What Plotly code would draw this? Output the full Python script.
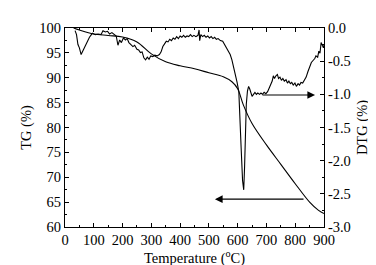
import plotly.graph_objects as go

# TG curve (smooth) - temperature (°C) vs mass (%)
tg_temp = [30, 50, 100, 150, 200, 250, 300, 350, 400, 450, 500, 550, 580, 600, 620,
           650, 700, 750, 800, 850, 880, 900]
tg_val = [100.0, 99.6, 98.8, 98.5, 98.2, 97.2, 94.8, 93.2, 92.4, 91.8, 91.0, 90.2,
          89.2, 87.8, 84.5, 80.8, 76.5, 72.6, 68.7, 65.0, 63.4, 62.7]

# DTG curve (noisy)
dtg_temp = [35, 40, 45, 50, 56, 65, 75, 85, 95, 105, 115, 125, 132, 140, 148, 155, 163,
            170, 178, 184, 190, 196, 203, 210, 216, 222, 230, 236, 242, 250, 256, 262,
            268, 274, 280, 286, 292, 298, 305, 312, 320, 328, 334, 340, 346, 352, 358,
            364, 370, 376, 382, 388, 394, 400, 406, 412, 418, 424, 430, 436, 442, 448,
            455, 462, 466, 468, 472, 478, 484, 490, 496, 502, 508, 514, 520, 526, 532,
            540, 548, 556, 562, 568, 574, 580, 586, 592, 598, 604, 608, 612, 617, 621,
            624, 627, 630, 634, 638, 642, 646, 650, 655, 660, 665, 670, 676, 681, 686, 692,
            698, 704, 710, 716, 720, 724, 728, 733, 738, 742, 747, 752, 757, 762, 768,
            773, 778, 783, 788, 793, 799, 804, 810, 815, 820, 826, 832, 838, 844, 850,
            856, 862, 868, 872, 878, 882, 886, 890, 894, 898, 900]
dtg_val = [-0.04, -0.10, -0.25, -0.30, -0.40, -0.32, -0.22, -0.14, -0.08, -0.10, -0.09,
           -0.10, -0.04, -0.06, -0.05, -0.09, -0.07, -0.10, -0.12, -0.26, -0.18, -0.22,
           -0.15, -0.18, -0.16, -0.22, -0.25, -0.28, -0.26, -0.32, -0.33, -0.37, -0.36,
           -0.45, -0.48, -0.44, -0.47, -0.42, -0.43, -0.41, -0.42, -0.40, -0.36, -0.28,
           -0.24, -0.20, -0.21, -0.17, -0.19, -0.15, -0.17, -0.13, -0.16, -0.12, -0.14,
           -0.11, -0.14, -0.12, -0.13, -0.10, -0.13, -0.11, -0.13, -0.11, -0.03, -0.19,
           -0.10, -0.13, -0.11, -0.14, -0.12, -0.15, -0.13, -0.16, -0.14, -0.17, -0.16,
           -0.19, -0.20, -0.26, -0.30, -0.34, -0.40, -0.48, -0.58, -0.70, -0.82, -0.96,
           -1.30, -1.80, -2.30, -2.44, -2.10, -1.60, -1.15, -0.95, -0.88, -0.92, -0.98,
           -1.03, -1.00, -0.97, -1.00, -0.98, -1.00, -0.98, -1.00, -0.97, -0.99, -0.96,
           -0.90, -0.84, -0.80, -0.72, -0.76, -0.72, -0.70, -0.76, -0.74, -0.79, -0.76,
           -0.80, -0.78, -0.83, -0.80, -0.84, -0.82, -0.86, -0.83, -0.88, -0.84, -0.86,
           -0.82, -0.83, -0.79, -0.74, -0.66, -0.58, -0.52, -0.49, -0.46, -0.42, -0.44,
           -0.35, -0.38, -0.22, -0.26, -0.30, -0.25, -0.30]

# Arrow annotations (tail -> head) in data coordinates (x, DTG)
arrow_tg = dict(tail=(834, -2.58), head=(521, -2.58))
arrow_dtg = dict(tail=(681, -1.01), head=(869, -1.01))

x_ticks = [0, 100, 200, 300, 400, 500, 600, 700, 800, 900]
y_ticks = [60, 65, 70, 75, 80, 85, 90, 95, 100]
y2_ticks = [0.0, -0.5, -1.0, -1.5, -2.0, -2.5, -3.0]
y2_text = ["0.0", "-0.5", "-1.0", "-1.5", "-2.0", "-2.5", "-3.0"]

FONT = "Liberation Serif, Times New Roman, serif"
FS = 14.5

fig = go.Figure()
fig.add_trace(go.Scatter(x=tg_temp, y=tg_val, mode="lines", line=dict(color="black", width=1.1, shape="spline"),
                         showlegend=False, yaxis="y"))
fig.add_trace(go.Scatter(x=dtg_temp, y=dtg_val, mode="lines", line=dict(color="black", width=1.1),
                         showlegend=False, yaxis="y2"))

for a in (arrow_tg, arrow_dtg):
    fig.add_annotation(x=a["head"][0], y=a["head"][1], ax=a["tail"][0], ay=a["tail"][1],
                       xref="x", yref="y2", axref="x", ayref="y2", text="",
                       showarrow=True, arrowhead=2, arrowsize=1.4, arrowwidth=1.1,
                       arrowcolor="black")

axis_common = dict(showline=True, linecolor="black", linewidth=1, ticks="inside",
                   ticklen=4, tickcolor="black", showgrid=False, zeroline=False,
                   tickfont=dict(family=FONT, size=FS, color="black"))

fig.update_layout(
    width=376, height=265,
    margin=dict(l=57, r=60, t=14, b=43),
    paper_bgcolor="white", plot_bgcolor="white",
    font=dict(family=FONT, size=FS, color="black"),
    xaxis=dict(range=[0, 900], tickvals=x_ticks, mirror="ticks",
               minor=dict(ticks="inside", ticklen=2, dtick=50, tickcolor="black"),
               title=dict(text="Temperature (<sup>o</sup>C)", font=dict(family=FONT, size=FS), standoff=2),
               **axis_common),
    yaxis=dict(range=[60, 100], tickvals=y_ticks,
               minor=dict(ticks="inside", ticklen=2, dtick=2.5, tickcolor="black"),
               title=dict(text="TG (%)", font=dict(family=FONT, size=FS), standoff=4),
               **axis_common),
    yaxis2=dict(range=[-3, 0], tickvals=y2_ticks, ticktext=y2_text, overlaying="y", side="right",
                minor=dict(ticks="inside", ticklen=2, dtick=0.25, tickcolor="black"),
                title=dict(text="DTG (%)", font=dict(family=FONT, size=FS), standoff=6),
                **axis_common),
)

fig.write_html("out.html")
